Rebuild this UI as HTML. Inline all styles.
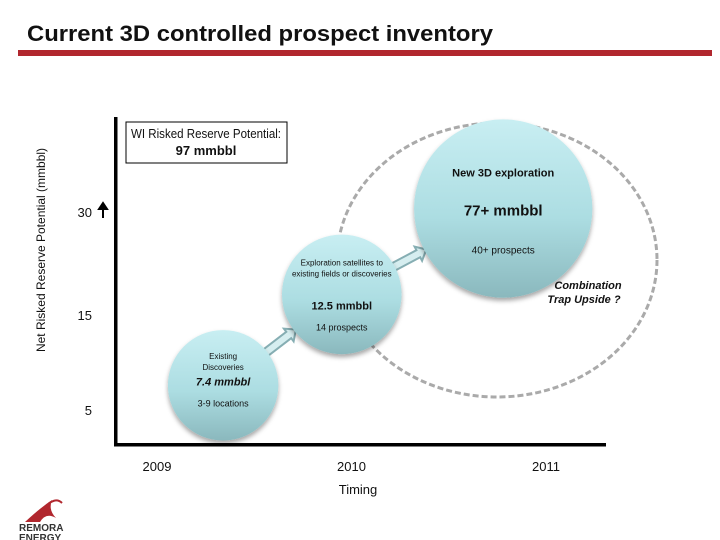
<!DOCTYPE html>
<html><head><meta charset="utf-8"><style>
body{margin:0;background:#fff;}
svg{display:block;font-family:"Liberation Sans",Arial,sans-serif;}
</style></head><body>
<svg id="chart" width="720" height="540" viewBox="0 0 720 540">
<defs>
<linearGradient id="bub" x1="0" y1="0" x2="0" y2="1">
<stop offset="0" stop-color="#c8eef2"/><stop offset="0.55" stop-color="#acdde2"/><stop offset="1" stop-color="#8ab8bd"/>
</linearGradient>
<filter id="sh" x="-20%" y="-20%" width="140%" height="150%"><feDropShadow dx="0" dy="3" stdDeviation="2.5" flood-color="#000" flood-opacity="0.35"/></filter>
</defs>
<text x="27" y="41" font-size="22" font-weight="bold" fill="#111" textLength="466" lengthAdjust="spacingAndGlyphs">Current 3D controlled prospect inventory</text>
<rect x="18" y="50" width="694" height="6" fill="#b1272e"/>
<rect x="114" y="117" width="3.5" height="329" fill="#000"/>
<rect x="114" y="443" width="492" height="3.5" fill="#000"/>
<text transform="translate(45,250) rotate(-90)" text-anchor="middle" font-size="12" fill="#111">Net Risked Reserve Potential (mmbbl)</text>
<text x="358" y="494" text-anchor="middle" font-size="13" fill="#111">Timing</text>
<ellipse cx="497" cy="260" rx="160" ry="137" fill="none" stroke="#aaa" stroke-width="3" stroke-dasharray="6,3"/>
<g id="ticks"></g>
<g id="arrows"></g>
<g id="bubbles"></g>
<rect x="126" y="122" width="161" height="41" fill="#fff" stroke="#000" stroke-width="1"/>
<text x="206" y="138" text-anchor="middle" font-size="12.5" fill="#111" textLength="150" lengthAdjust="spacingAndGlyphs">WI Risked Reserve Potential:</text>
<text x="206" y="155" text-anchor="middle" font-size="13" font-weight="bold" fill="#111">97 mmbbl</text>
<text x="588" y="289" text-anchor="middle" font-size="11" font-weight="bold" font-style="italic" fill="#111">Combination</text>
<text x="584" y="303" text-anchor="middle" font-size="11" font-weight="bold" font-style="italic" fill="#111">Trap Upside ?</text>
<g>
<path d="M25 522 Q40 508 52 500 Q48 510 56 518 Q46 512 40 522 Z" fill="#b1272e"/>
<path d="M44 508 Q55 496 62 503" stroke="#b1272e" stroke-width="2" fill="none"/>
<text x="19" y="531" font-size="10" font-weight="bold" fill="#333">REMORA</text>
<text x="19" y="541" font-size="10" font-weight="bold" fill="#333">ENERGY</text>
</g>
</svg>
<script>
const yTicks=[5,15,30];
const yTickLabels=["5","15","30"];
const xYears=[2009,2010,2011];
const xTickLabels=["2009","2010","2011"];
const bubbleYear=[2009.34,2009.95,2010.78];
const bubbleLevel=[7.6,18,30.5];
const bubbleValue=[7.4,12.5,77];
const bubbleValueLabels=["7.4 mmbbl","12.5 mmbbl","77+ mmbbl"];
const bubbleCounts=["3-9 locations","14 prospects","40+ prospects"];
const NS="http://www.w3.org/2000/svg";
function xScale(y){return 157+(y-2009)*194.5;}
function yScale(v){
  if(v<=15)return 410-(v-5)*9.5;
  return 315-(v-15)*(103/15);
}
function rScale(v){return 40+5.6*Math.sqrt(v);}
function mk(tag,attrs,parent,txt){const e=document.createElementNS(NS,tag);for(const k in attrs)e.setAttribute(k,attrs[k]);if(txt!==undefined)e.textContent=txt;parent.appendChild(e);return e;}
const tg=document.getElementById('ticks');
yTicks.forEach((t,i)=>{
  const el=mk('text',{x:92,y:yScale(t)+5,'text-anchor':'end','font-size':13,fill:'#111'},tg,yTickLabels[i]);
  
  
});
const topY=yScale(yTicks[2]);
const ar=mk('path',{d:`M103 ${topY+6} V${topY-6} M99 ${topY-3} L103 ${topY-9} L107 ${topY-3} Z`,stroke:'#000','stroke-width':2,fill:'#000'},tg);


xYears.forEach((y,i)=>{
  const el=mk('text',{x:xScale(y),y:471,'text-anchor':'middle','font-size':13,fill:'#111'},tg,xTickLabels[i]);
  
  
});
const bg=document.getElementById('bubbles'),ag=document.getElementById('arrows');
const pts=bubbleYear.map((y,i)=>({x:xScale(y),y:yScale(bubbleLevel[i]),r:rScale(bubbleValue[i])}));
for(let i=0;i<pts.length-1;i++){
  const a=pts[i],b=pts[i+1];
  const dx=b.x-a.x,dy=b.y-a.y,L=Math.hypot(dx,dy),ux=dx/L,uy=dy/L,nx=-uy,ny=ux;
  const sx=a.x+ux*(a.r-4),sy=a.y+uy*(a.r-4),ex=b.x-ux*(b.r-2),ey=b.y-uy*(b.r-2);
  const hx=ex-ux*9,hy=ey-uy*9;
  const p=[[sx+nx*4,sy+ny*4],[hx+nx*4,hy+ny*4],[hx+nx*8,hy+ny*8],[ex,ey],[hx-nx*8,hy-ny*8],[hx-nx*4,hy-ny*4],[sx-nx*4,sy-ny*4]];
  const el=mk('polygon',{points:p.map(q=>q.join(',')).join(' '),fill:'#d6eef0',stroke:'#86aeb3','stroke-width':2},ag);
  
  
}
const titles=[["Existing","Discoveries"],["Exploration satellites to","existing fields or discoveries"],["New 3D exploration"]];
pts.forEach((p,i)=>{
  const c=mk('circle',{cx:p.x,cy:p.y,r:p.r,fill:'url(#bub)',filter:'url(#sh)'},bg);
  
  
  const big=i===2;
  const t0=big?p.y-32:p.y-p.r*0.48;
  titles[i].forEach((line,j)=>{
    const t=mk('text',{x:p.x,y:t0+j*11,'text-anchor':'middle','font-size':big?11:8,'font-weight':big?'bold':'normal',fill:'#111'},bg,line);
    
    
  });
  const v=mk('text',{x:p.x,y:big?p.y+7:p.y+p.r*(i===0?0:0.25),'text-anchor':'middle','font-size':big?15:11,'font-weight':'bold','font-style':i===0?'italic':'normal',fill:'#111'},bg,bubbleValueLabels[i]);
  
  
  const n=mk('text',{x:p.x,y:big?p.y+45:p.y+p.r*(i===0?0.38:0.6),'text-anchor':'middle','font-size':big?10:9,fill:'#111'},bg,bubbleCounts[i]);
  
  
});
</script>
</body></html>
